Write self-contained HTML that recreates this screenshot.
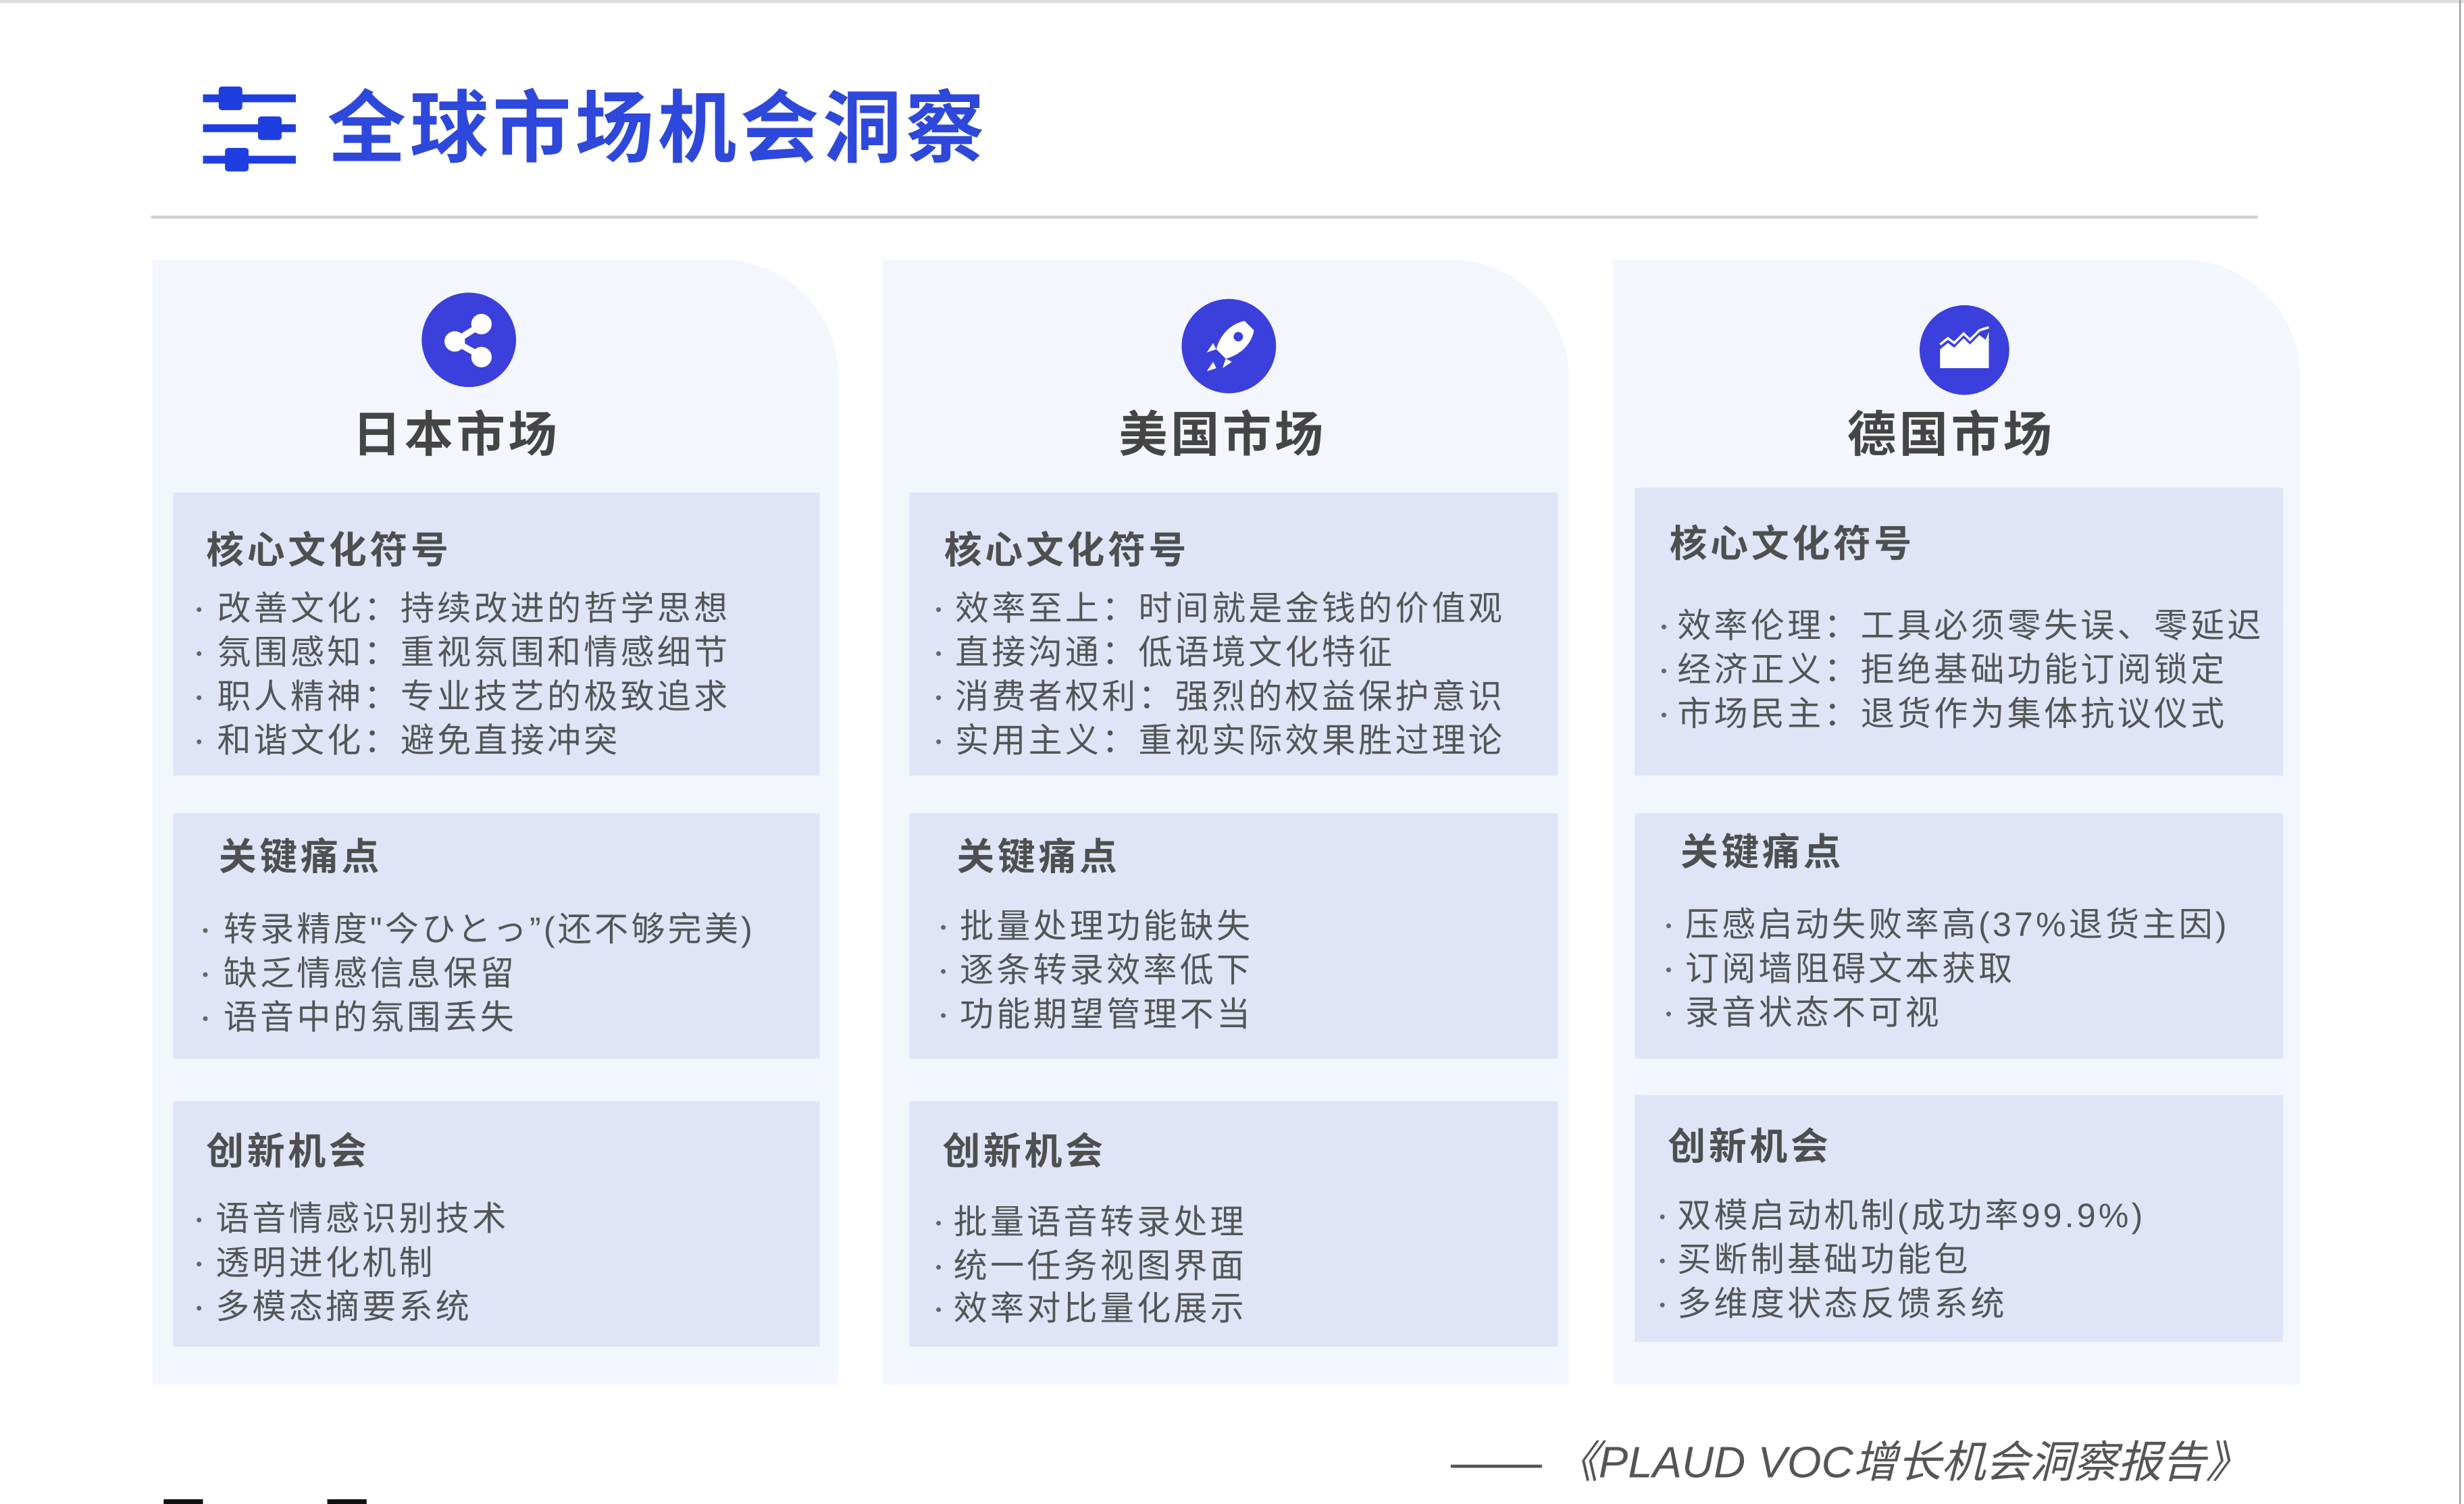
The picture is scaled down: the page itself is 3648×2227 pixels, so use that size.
<!DOCTYPE html>
<html><head><meta charset="utf-8">
<style>
html,body{margin:0;padding:0;background:#fff;}
body{width:3648px;height:2225px;overflow:hidden;position:relative;}
#w{position:absolute;left:0;top:0;width:1566px;height:956px;transform:scale(2.3295);transform-origin:0 0;font-family:"Liberation Sans","Noto Sans CJK SC",sans-serif;}
.a{position:absolute;}
.col{position:absolute;top:165px;width:436px;height:715px;background:#f3f6fc;border-top-right-radius:75px;}
.box{position:absolute;background:#dfe5f7;}
.ic{position:absolute;width:60px;height:60px;border-radius:50%;background:#3b3fdc;}
.h{position:absolute;font-size:31px;font-weight:bold;color:#454545;letter-spacing:2px;line-height:40px;white-space:nowrap;}
.t{position:absolute;font-size:24px;font-weight:bold;color:#4f4f4f;letter-spacing:2px;line-height:30px;white-space:nowrap;}
.l{position:absolute;font-size:21.5px;color:#555;letter-spacing:1.8px;line-height:30px;white-space:nowrap;}
.d{position:absolute;width:3px;height:3px;border-radius:50%;background:#666;}
</style></head><body><div id="w">
<div class="a" style="left:0;top:0;width:1566px;height:2px;background:#ddd"></div>
<div class="a" style="left:1563px;top:0;width:1px;height:956px;background:#999"></div>
<div class="a" style="left:129px;top:60px;width:59px;height:5px;background:#1f3ee0"></div>
<div class="a" style="left:139px;top:55px;width:15px;height:15px;background:#1f3ee0;border-radius:2px"></div>
<div class="a" style="left:129px;top:79px;width:59px;height:5px;background:#1f3ee0"></div>
<div class="a" style="left:164px;top:74px;width:15px;height:15px;background:#1f3ee0;border-radius:2px"></div>
<div class="a" style="left:129px;top:99px;width:59px;height:5px;background:#1f3ee0"></div>
<div class="a" style="left:143px;top:94px;width:15px;height:15px;background:#1f3ee0;border-radius:2px"></div>
<div class="a" style="left:208px;top:52px;font-size:50px;font-weight:bold;color:#2e48dc;letter-spacing:2.5px;line-height:60px;white-space:nowrap">全球市场机会洞察</div>
<div class="a" style="left:96px;top:137px;width:1339px;height:2px;background:#d2d2d2"></div>

<div class="col" style="left:97px"></div>
<div class="col" style="left:561px"></div>
<div class="col" style="left:1025px;width:437px"></div>

<div class="ic" style="left:268px;top:186px"><svg width="60" height="60" viewBox="0 0 60 60"><g fill="#fff" stroke="#fff"><line x1="21" y1="31" x2="37" y2="21" stroke-width="4"/><line x1="21" y1="31" x2="37" y2="40" stroke-width="4"/><circle cx="38" cy="20" r="6"/><circle cx="21" cy="31" r="6"/><circle cx="38" cy="41" r="6"/></g></svg></div>
<div class="ic" style="left:751px;top:190px"><svg width="60" height="60" viewBox="0 0 60 60"><path d="M40 14 C30 16 24 24 22 32 L28 38 C36 36 44 30 46 20 Z" fill="#fff"/><path d="M22 32 L16 34 L20 28 Z M28 38 L26 44 L32 40 Z" fill="#fff"/><path d="M20 40 L16 46 L22 44 Z" fill="#fff"/><circle cx="36" cy="24" r="3" fill="#3b3fdc"/></svg></div>
<div class="ic" style="left:1220px;top:194px;width:57px;height:57px"><svg width="57" height="57" viewBox="0 0 57 57"><path d="M13 28 L18 24 L22 27 L28 21 L32 25 L38 19 L42 22 L44 17 L44 40 L13 40 Z" fill="#fff"/><path d="M13 25 L18 21 L22 24 L28 18 L32 22 L38 16 L44 14" stroke="#fff" stroke-width="1.5" fill="none"/></svg></div>

<div class="h" style="left:224px;top:257px">日本市场</div>
<div class="h" style="left:711px;top:257px">美国市场</div>
<div class="h" style="left:1174px;top:257px">德国市场</div>

<div class="box" style="left:110px;top:313px;width:411px;height:180px"></div>
<div class="box" style="left:110px;top:517px;width:411px;height:156px"></div>
<div class="box" style="left:110px;top:700px;width:411px;height:156px"></div>
<div class="box" style="left:578px;top:313px;width:412px;height:180px"></div>
<div class="box" style="left:578px;top:517px;width:412px;height:156px"></div>
<div class="box" style="left:578px;top:700px;width:412px;height:156px"></div>
<div class="box" style="left:1039px;top:310px;width:412px;height:183px"></div>
<div class="box" style="left:1039px;top:517px;width:412px;height:156px"></div>
<div class="box" style="left:1039px;top:696px;width:412px;height:157px"></div>

<div class="t" style="left:131px;top:336px">核心文化符号</div>
<div class="d" style="left:125px;top:386px"></div><div class="l" style="left:138px;top:372px">改善文化：持续改进的哲学思想</div>
<div class="d" style="left:125px;top:414px"></div><div class="l" style="left:138px;top:400px">氛围感知：重视氛围和情感细节</div>
<div class="d" style="left:125px;top:442px"></div><div class="l" style="left:138px;top:428px">职人精神：专业技艺的极致追求</div>
<div class="d" style="left:125px;top:470px"></div><div class="l" style="left:138px;top:456px">和谐文化：避免直接冲突</div>
<div class="t" style="left:139px;top:531px">关键痛点</div>
<div class="d" style="left:129px;top:590px"></div><div class="l" style="left:142px;top:576px">转录精度"今ひとっ”(还不够完美)</div>
<div class="d" style="left:129px;top:618px"></div><div class="l" style="left:142px;top:604px">缺乏情感信息保留</div>
<div class="d" style="left:129px;top:646px"></div><div class="l" style="left:142px;top:632px">语音中的氛围丢失</div>
<div class="t" style="left:131px;top:718px">创新机会</div>
<div class="d" style="left:125px;top:774px"></div><div class="l" style="left:137px;top:760px">语音情感识别技术</div>
<div class="d" style="left:125px;top:802px"></div><div class="l" style="left:137px;top:788px">透明进化机制</div>
<div class="d" style="left:125px;top:830px"></div><div class="l" style="left:137px;top:816px">多模态摘要系统</div>

<div class="t" style="left:600px;top:336px">核心文化符号</div>
<div class="d" style="left:595px;top:386px"></div><div class="l" style="left:607px;top:372px">效率至上：时间就是金钱的价值观</div>
<div class="d" style="left:595px;top:414px"></div><div class="l" style="left:607px;top:400px">直接沟通：低语境文化特征</div>
<div class="d" style="left:595px;top:442px"></div><div class="l" style="left:607px;top:428px">消费者权利：强烈的权益保护意识</div>
<div class="d" style="left:595px;top:470px"></div><div class="l" style="left:607px;top:456px">实用主义：重视实际效果胜过理论</div>
<div class="t" style="left:608px;top:531px">关键痛点</div>
<div class="d" style="left:598px;top:588px"></div><div class="l" style="left:610px;top:574px">批量处理功能缺失</div>
<div class="d" style="left:598px;top:616px"></div><div class="l" style="left:610px;top:602px">逐条转录效率低下</div>
<div class="d" style="left:598px;top:644px"></div><div class="l" style="left:610px;top:630px">功能期望管理不当</div>
<div class="t" style="left:599px;top:718px">创新机会</div>
<div class="d" style="left:595px;top:776px"></div><div class="l" style="left:606px;top:762px">批量语音转录处理</div>
<div class="d" style="left:595px;top:804px"></div><div class="l" style="left:606px;top:790px">统一任务视图界面</div>
<div class="d" style="left:595px;top:831px"></div><div class="l" style="left:606px;top:817px">效率对比量化展示</div>

<div class="t" style="left:1061px;top:332px">核心文化符号</div>
<div class="d" style="left:1056px;top:397px"></div><div class="l" style="left:1066px;top:383px">效率伦理：工具必须零失误、零延迟</div>
<div class="d" style="left:1056px;top:425px"></div><div class="l" style="left:1066px;top:411px">经济正义：拒绝基础功能订阅锁定</div>
<div class="d" style="left:1056px;top:453px"></div><div class="l" style="left:1066px;top:439px">市场民主：退货作为集体抗议仪式</div>
<div class="t" style="left:1068px;top:528px">关键痛点</div>
<div class="d" style="left:1059px;top:587px"></div><div class="l" style="left:1071px;top:573px">压感启动失败率高(37%退货主因)</div>
<div class="d" style="left:1059px;top:615px"></div><div class="l" style="left:1071px;top:601px">订阅墙阻碍文本获取</div>
<div class="d" style="left:1059px;top:643px"></div><div class="l" style="left:1071px;top:629px">录音状态不可视</div>
<div class="t" style="left:1060px;top:715px">创新机会</div>
<div class="d" style="left:1055px;top:772px"></div><div class="l" style="left:1066px;top:758px">双模启动机制(成功率99.9%)</div>
<div class="d" style="left:1055px;top:800px"></div><div class="l" style="left:1066px;top:786px">买断制基础功能包</div>
<div class="d" style="left:1055px;top:828px"></div><div class="l" style="left:1066px;top:814px">多维度状态反馈系统</div>

<div class="a" style="left:922px;top:931px;width:58px;height:2px;background:#555"></div>
<div class="a" style="left:988px;top:912px;font-size:28px;font-style:italic;color:#555;line-height:36px;white-space:nowrap">《PLAUD VOC增长机会洞察报告》</div>
<div class="a" style="left:104px;top:953px;width:25px;height:3px;background:#111"></div>
<div class="a" style="left:208px;top:953px;width:25px;height:3px;background:#111"></div>
</div></body></html>
